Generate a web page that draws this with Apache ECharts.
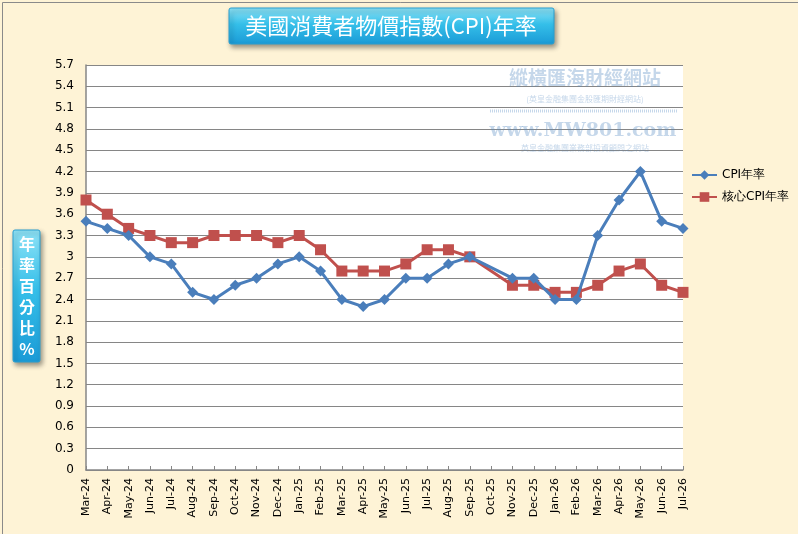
<!DOCTYPE html>
<html>
<head>
<meta charset="utf-8">
<script src="https://cdn.jsdelivr.net/npm/echarts@6/dist/echarts.min.js"></script>
<style>
  html, body { margin: 0; padding: 0; background: #fff; }
  #chart { width: 798px; height: 534px; }
</style>
</head>
<body>
<div id="chart"></div>
<script>
// months on the x axis
var months = ['Mar-24','Apr-24','May-24','Jun-24','Jul-24','Aug-24','Sep-24','Oct-24','Nov-24','Dec-24',
  'Jan-25','Feb-25','Mar-25','Apr-25','May-25','Jun-25','Jul-25','Aug-25','Sep-25','Oct-25','Nov-25','Dec-25',
  'Jan-26','Feb-26','Mar-26','Apr-26','May-26','Jun-26','Jul-26'];
// CPI annual rate (Oct-25 has no value)
var cpi = [3.5,3.4,3.3,3.0,2.9,2.5,2.4,2.6,2.7,2.9,
  3.0,2.8,2.4,2.3,2.4,2.7,2.7,2.9,3.0,null,2.7,2.7,
  2.4,2.4,3.3,3.8,4.2,3.5,3.4];
// core CPI annual rate
var coreCpi = [3.8,3.6,3.4,3.3,3.2,3.2,3.3,3.3,3.3,3.2,
  3.3,3.1,2.8,2.8,2.8,2.9,3.1,3.1,3.0,null,2.6,2.6,
  2.5,2.5,2.6,2.8,2.9,2.6,2.5];
var yTicks = { min: 0, max: 5.7, interval: 0.3 };

var myChart = echarts.init(document.getElementById('chart'));

var boxFill = new echarts.graphic.LinearGradient(0, 0, 0, 1, [
  { offset: 0, color: '#8fe3f7' },
  { offset: 0.45, color: '#35bfe9' },
  { offset: 1, color: '#1a9ad6' }
]);
var waterColor = 'rgba(90,140,195,0.35)';

var option = {
  backgroundColor: '#fef3d6',
  animation: false,
  grid: { left: 86, right: 115, top: 65, bottom: 64, show: true, backgroundColor: '#ffffff', borderWidth: 0 },
  legend: {
    orient: 'vertical',
    left: 686,
    top: 164,
    itemGap: 10,
    itemWidth: 25,
    itemHeight: 12,
    textStyle: { fontFamily: 'DejaVu Sans', fontSize: 12, color: '#000' },
    data: ['CPI年率', '核心CPI年率']
  },
  xAxis: {
    type: 'category',
    data: months,
    boundaryGap: false,
    axisLine: { lineStyle: { color: '#868686', width: 1.5 } },
    axisTick: { inside: true, length: 4, lineStyle: { color: '#868686' } },
    axisLabel: { rotate: 90, interval: 0, fontFamily: 'DejaVu Sans', fontSize: 11, color: '#000', margin: 8 },
    splitLine: { show: false }
  },
  yAxis: {
    type: 'value',
    min: yTicks.min,
    max: yTicks.max,
    interval: yTicks.interval,
    axisLine: { show: true, lineStyle: { color: '#868686', width: 1.5 } },
    axisTick: { show: false },
    axisLabel: {
      fontFamily: 'DejaVu Sans', fontSize: 12, color: '#000', margin: 12,
      formatter: function (v) { return String(Math.round(v * 10) / 10); }
    },
    splitLine: { lineStyle: { color: '#868686', width: 1.2 } }
  },
  series: [
    {
      name: 'CPI年率',
      type: 'line',
      data: cpi,
      connectNulls: true,
      symbol: 'diamond',
      symbolSize: 11,
      itemStyle: { color: '#4a7ebb' },
      lineStyle: { width: 3, color: '#4a7ebb' },
      z: 3
    },
    {
      name: '核心CPI年率',
      type: 'line',
      data: coreCpi,
      connectNulls: true,
      symbol: 'rect',
      symbolSize: 11,
      itemStyle: { color: '#c0504d' },
      lineStyle: { width: 3, color: '#c0504d' },
      z: 2
    }
  ],
  graphic: [
    { type: 'rect', left: 0, top: 0, shape: { x: 0.5, y: 0.5, width: 797, height: 533 },
      style: { fill: 'none', stroke: '#8a8a8a', lineWidth: 1 }, silent: true },
    // title box
    { type: 'rect', shape: { x: 229, y: 8, width: 325, height: 36, r: 2 },
      style: { fill: boxFill, stroke: '#2a9fd0', lineWidth: 1, shadowBlur: 5, shadowOffsetX: 2, shadowOffsetY: 3, shadowColor: 'rgba(0,0,0,0.4)' }, z: 10 },
    { type: 'text', x: 391, y: 26, z: 11,
      style: { text: '美國消費者物價指數(CPI)年率', fill: '#ffffff', font: '22px "Noto Sans CJK TC"', align: 'center', verticalAlign: 'middle' } },
    // y axis name box
    { type: 'rect', shape: { x: 13, y: 230, width: 27, height: 132, r: 2 },
      style: { fill: boxFill, stroke: '#2a9fd0', lineWidth: 1, shadowBlur: 5, shadowOffsetX: 2, shadowOffsetY: 3, shadowColor: 'rgba(0,0,0,0.4)' }, z: 10 },
    { type: 'text', x: 27, y: 296, z: 11,
      style: { text: '年\n率\n百\n分\n比\n%', fill: '#ffffff', font: 'bold 16px "Noto Sans CJK TC"', lineHeight: 21, align: 'center', verticalAlign: 'middle' } },
    // watermark
    { type: 'text', x: 585, y: 78, z: 1,
      style: { text: '縱橫匯海財經網站', fill: waterColor, font: 'bold 19px "Noto Sans CJK TC"', align: 'center', verticalAlign: 'middle' } },
    { type: 'text', x: 585, y: 99, z: 1,
      style: { text: '(英皇金融集團金股匯期財經網站)', fill: waterColor, font: '8px "Noto Sans CJK TC"', align: 'center', verticalAlign: 'middle' } },
    { type: 'line', shape: { x1: 490, y1: 111, x2: 677, y2: 111 }, z: 1,
      style: { stroke: waterColor, lineWidth: 3, lineDash: [1, 1] } },
    { type: 'text', x: 583, y: 131, z: 1,
      style: { text: 'www.MW801.com', fill: waterColor, font: 'bold 19px "DejaVu Serif"', align: 'center', verticalAlign: 'middle' } },
    { type: 'text', x: 585, y: 148, z: 1,
      style: { text: '英皇金融集團業務部投資顧問之網站', fill: waterColor, font: '8px "Noto Sans CJK TC"', align: 'center', verticalAlign: 'middle' } }
  ]
};

myChart.setOption(option, true);
</script>
</body>
</html>
